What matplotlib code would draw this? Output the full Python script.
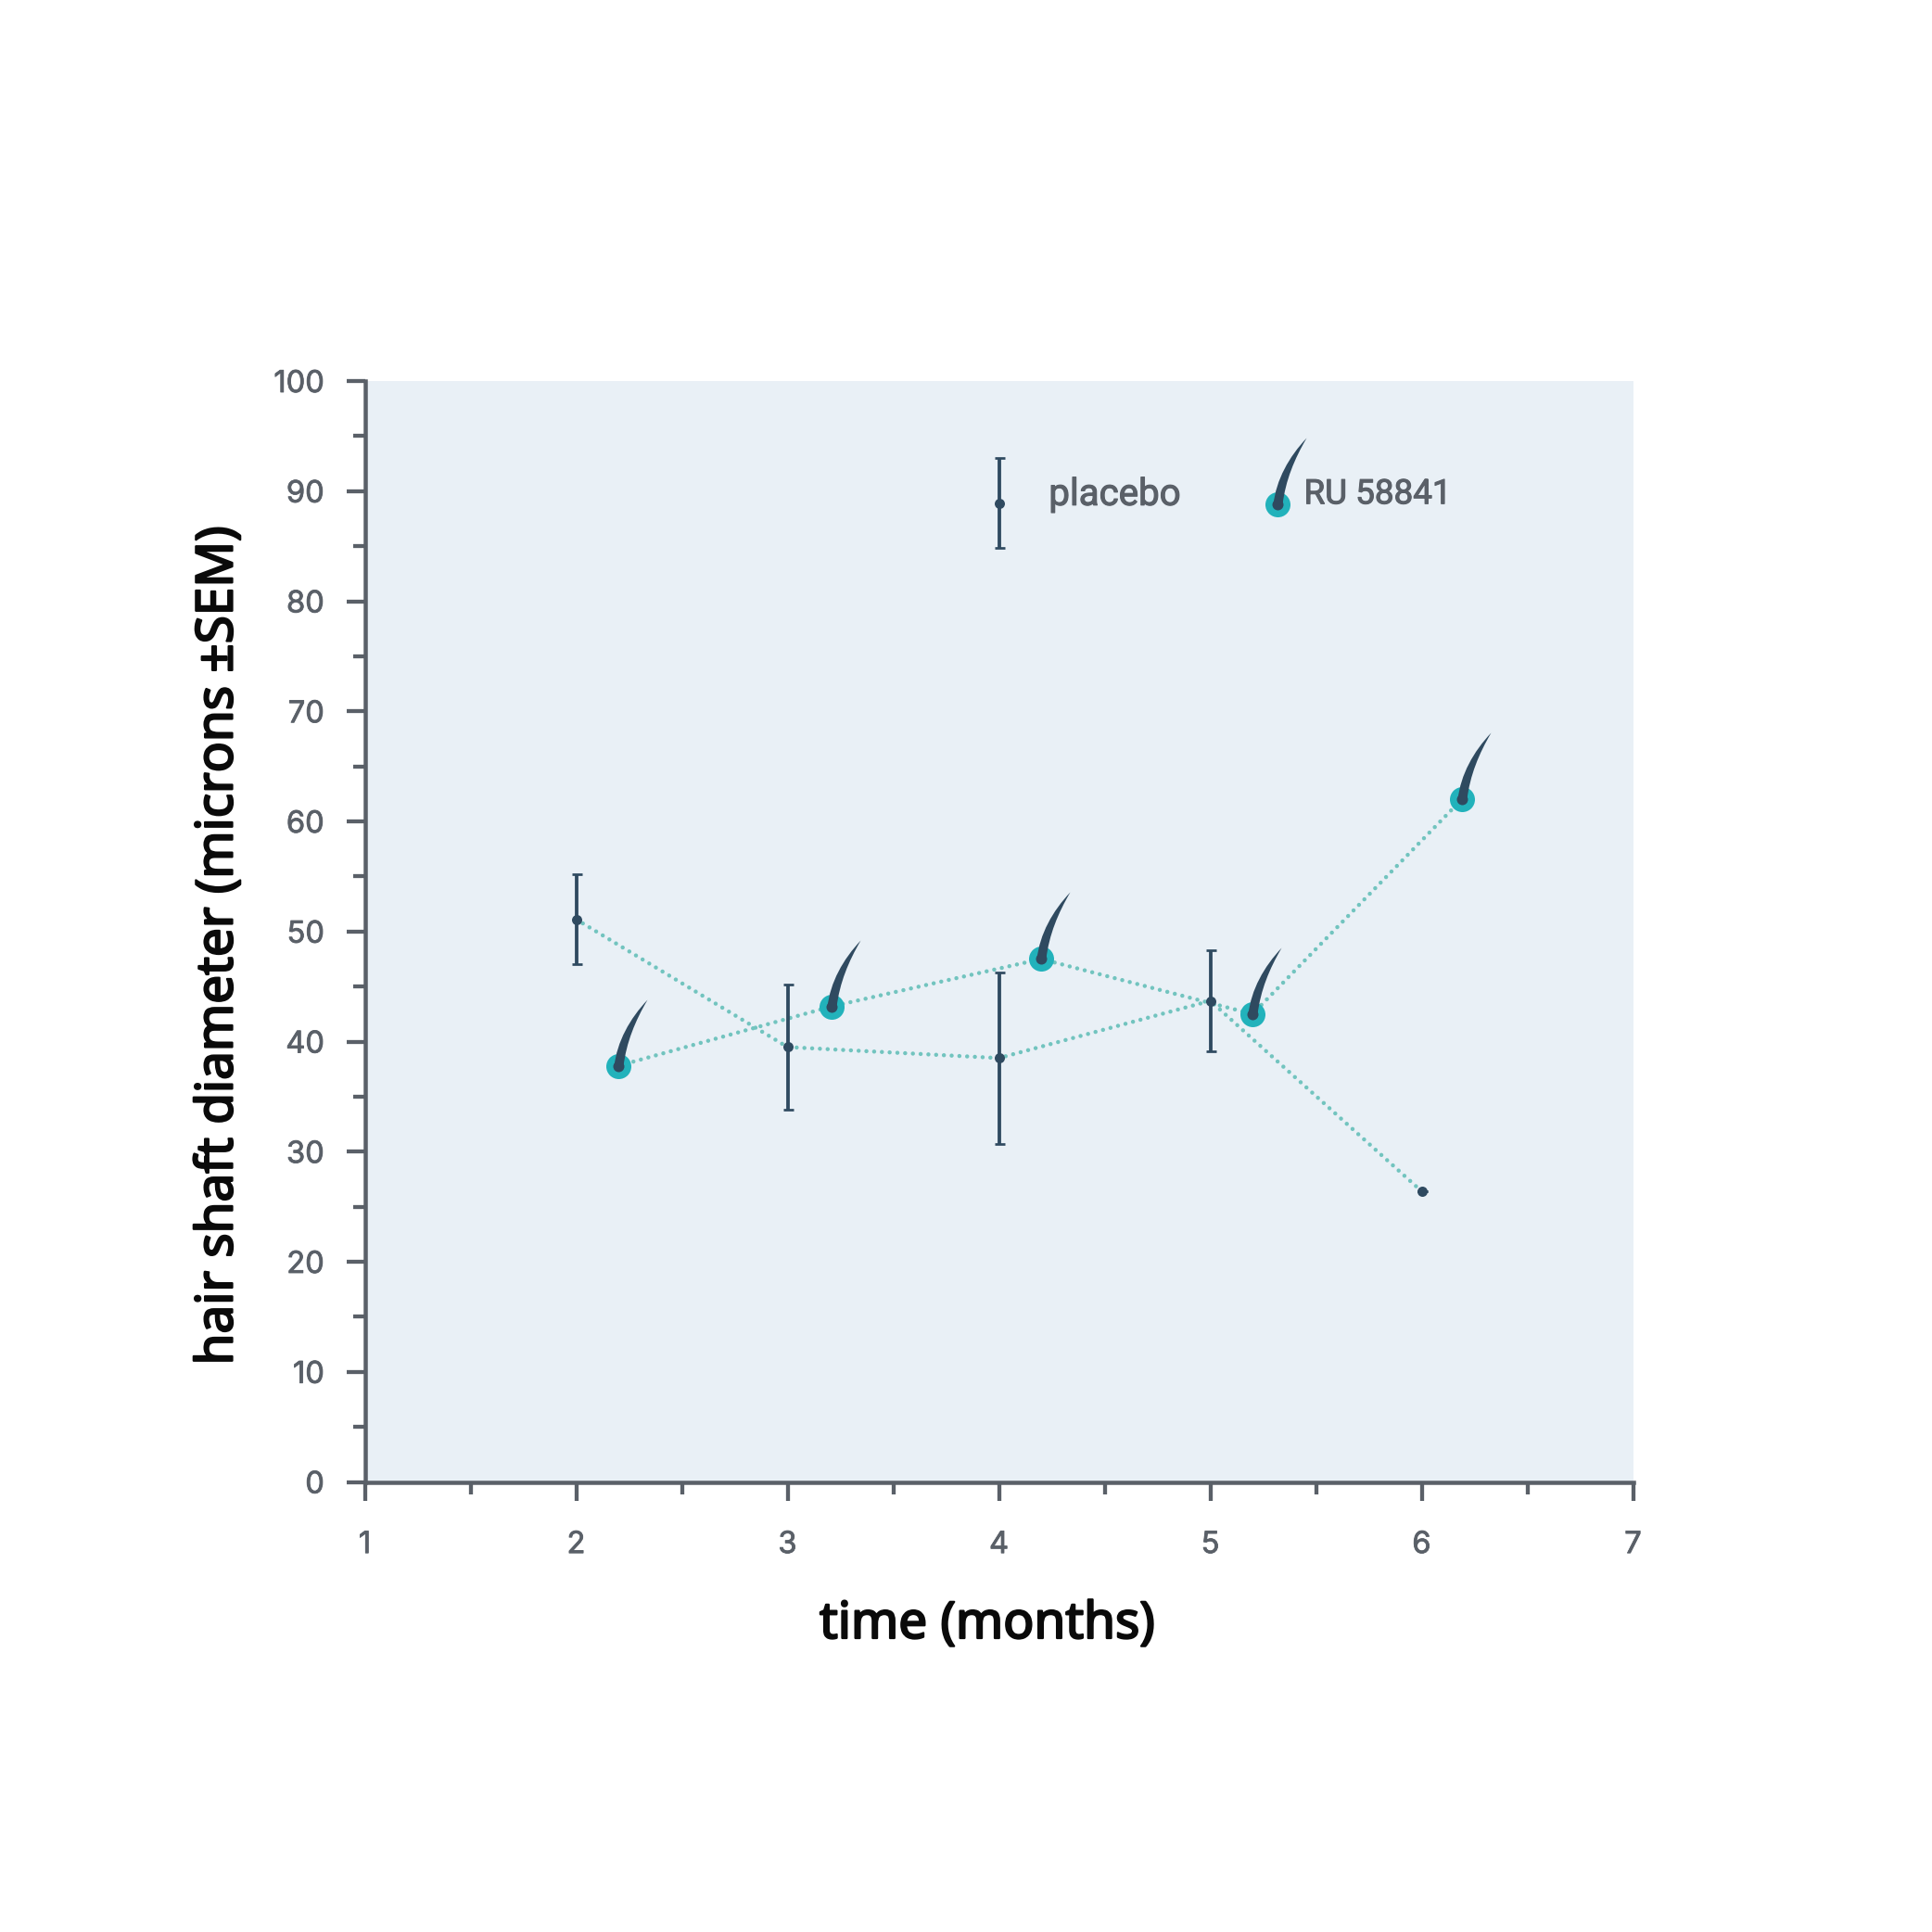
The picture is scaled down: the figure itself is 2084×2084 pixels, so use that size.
import matplotlib
matplotlib.use("Agg")
import matplotlib.pyplot as plt
import matplotlib.patheffects as pe
from matplotlib.path import Path

# ---- data ----
placebo_x = [2, 3, 4, 5, 6]
placebo_y = [51.1, 39.5, 38.5, 43.7, 26.4]
placebo_err = [4.1, 5.7, 7.8, 4.6, 0]
ru_x = [2.2, 3.21, 4.2, 5.2, 6.19]
ru_y = [37.8, 43.2, 47.5, 42.5, 62.0]
legend_placebo_x = [4.0]
legend_placebo_y = [88.9]
legend_placebo_err = [4.1]
legend_ru_x = [5.32]
legend_ru_y = [88.8]
x_major = [1, 2, 3, 4, 5, 6, 7]
x_minor = [1.5, 2.5, 3.5, 4.5, 5.5, 6.5]
y_major = list(range(0, 101, 10))
y_minor = list(range(5, 100, 10))
label_x = "time (months)"
label_y = "hair shaft diameter (microns ±SEM)"
legend_labels = ["placebo", "RU 58841"]

DARK = "#2f4a60"
TEAL = "#22b2bb"
DOT = "#72c4bf"
AXIS = "#5a6068"
PANEL = "#e9f0f6"
INK = "#0a0a0a"
TICKFONT = "Inter"
LEGENDFONT = "Roboto"
LABELFONT = "Noto Sans"
PX = 0.72  # points per pixel at dpi 100

W = 2084
fig = plt.figure(figsize=(W / 100, W / 100), dpi=100, facecolor="white")
L, R, T, B = 393.5, 1761.5, 411, 1598.5
ax = fig.add_axes([L / W, 1 - B / W, (R - L) / W, (B - T) / W])
ax.set_facecolor(PANEL)
ax.set_xlim(1, 7)
ax.set_ylim(0, 100)
for s in ("top", "right"):
    ax.spines[s].set_visible(False)
for s in ("left", "bottom"):
    ax.spines[s].set_color(AXIS)
    ax.spines[s].set_linewidth(4.5 * PX)

ax.set_xticks(x_major)
ax.set_xticks(x_minor, minor=True)
ax.set_yticks(y_major)
ax.set_yticks(y_minor, minor=True)
ax.tick_params(axis="both", which="major", length=20 * PX, width=4.3 * PX, color=AXIS,
               labelcolor=AXIS, labelsize=23.5)
ax.tick_params(axis="both", which="minor", length=13 * PX, width=4.3 * PX, color=AXIS)
ax.tick_params(axis="x", which="major", pad=23.5)
ax.tick_params(axis="y", which="major", pad=17)
tick_weight = [pe.withStroke(linewidth=0.6, foreground=AXIS)]
for t in ax.get_xticklabels() + ax.get_yticklabels():
    t.set_fontfamily(TICKFONT)
    t.set_path_effects(tick_weight)

# hair glyph: a tapered curved marker anchored at the follicle
hair = Path(
    [(-5, 0), (-2, 27), (12, 52), (31, 72), (18, 50), (8, 26), (5, 0), (-5, 0)],
    [Path.MOVETO, Path.CURVE4, Path.CURVE4, Path.CURVE4,
     Path.CURVE4, Path.CURVE4, Path.CURVE4, Path.CLOSEPOLY],
)
HAIR_SIZE = 144 * PX


def ru_marks(xs, ys):
    ax.plot(xs, ys, ls="none", marker="o", ms=27 * PX, mfc=TEAL, mec="none", zorder=4)
    ax.plot(xs, ys, ls="none", marker=hair, ms=HAIR_SIZE, mfc=DARK, mec="none", zorder=5)
    ax.plot(xs, ys, ls="none", marker="o", ms=12 * PX, mfc=DARK, mec="none", zorder=6)


def placebo_marks(xs, ys, err):
    ax.errorbar(xs, ys, yerr=err, fmt="o", ms=11 * PX, mfc=DARK, mec="none",
                ecolor=DARK, elinewidth=3.8 * PX, capsize=5.5 * PX, capthick=2.7 * PX,
                zorder=5)


dotted = (0, (0.01, 1.85))
ax.plot(placebo_x, placebo_y, color=DOT, lw=4.5 * PX, ls=dotted, dash_capstyle="round", zorder=3)
ax.plot(ru_x, ru_y, color=DOT, lw=4.5 * PX, ls=dotted, dash_capstyle="round", zorder=3)

placebo_marks(placebo_x, placebo_y, placebo_err)
ru_marks(ru_x, ru_y)

# legend
placebo_marks(legend_placebo_x, legend_placebo_y, legend_placebo_err)
ru_marks(legend_ru_x, legend_ru_y)
legend_weight = [pe.withStroke(linewidth=0.8, foreground=AXIS)]
ax.text(4.236, 89.7, legend_labels[0], fontfamily=LEGENDFONT, fontsize=29, color=AXIS,
        ha="left", va="center", path_effects=legend_weight)
ax.text(5.443, 89.7, legend_labels[1], fontfamily=LEGENDFONT, fontsize=26.5, color=AXIS,
        ha="left", va="center", path_effects=legend_weight)

# axis titles: stroke gives the semi-bold weight the variable font lacks here
title_weight = [pe.withStroke(linewidth=1.6, foreground=INK)]
fig.text(1065 / W, 1 - 1752.5 / W, label_x, fontfamily=LABELFONT, fontsize=39.5,
         color=INK, ha="center", va="center", path_effects=title_weight)
fig.text(236 / W, 1 - 1020 / W, label_y, fontfamily=LABELFONT, fontsize=39.5,
         color=INK, ha="center", va="center", rotation=90, path_effects=title_weight)

fig.savefig("out.png", dpi=100, facecolor="white")
